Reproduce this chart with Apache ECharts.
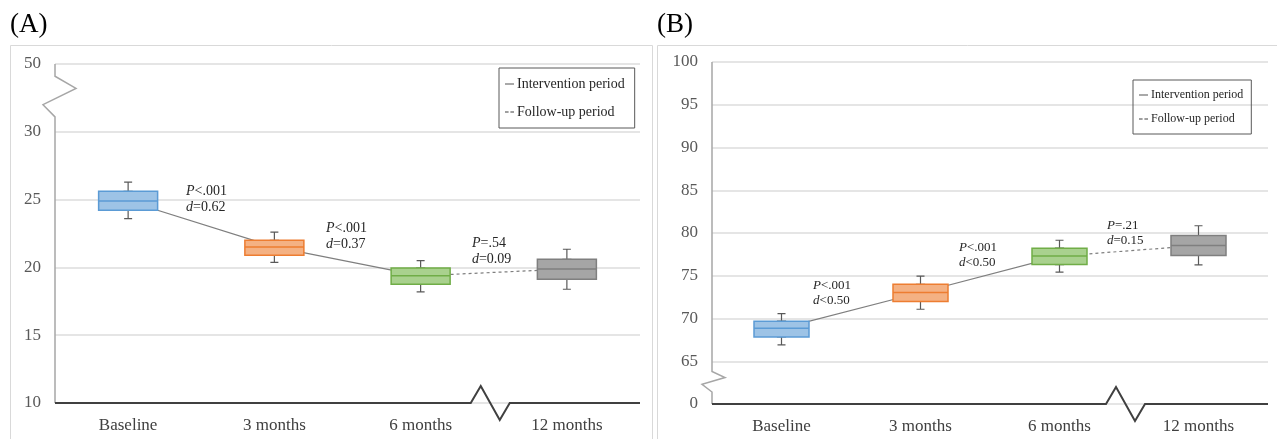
<!DOCTYPE html>
<html>
<head>
<meta charset="utf-8">
<script src="https://cdn.jsdelivr.net/npm/echarts@6/dist/echarts.min.js"></script>
<style>
  html, body { margin: 0; padding: 0; background: #fff; }
  #chart { width: 1277px; height: 439px; }
</style>
</head>
<body>
<div id="chart"></div>
<script>
const categories = ['Baseline', '3 months', '6 months', '12 months'];

// [min, Q1, median, Q3, max]
const boxA = [
  [23.6, 24.22, 24.9, 25.61, 26.29],
  [20.37, 20.89, 21.51, 22.0, 22.6],
  [18.2, 18.76, 19.38, 19.95, 20.5],
  [18.39, 19.13, 19.88, 20.6, 21.34]
];
const boxB = [
  [66.92, 67.85, 68.85, 69.69, 70.58],
  [71.08, 72.0, 73.04, 74.0, 74.96],
  [75.42, 76.31, 77.3, 78.23, 79.15],
  [76.27, 77.38, 78.54, 79.7, 80.85]
];

// tick labels (axis is broken, so the top/bottom tick is relabelled)
const ticksA = ['10', '15', '20', '25', '30', '50'];
const ticksB = ['0', '65', '70', '75', '80', '85', '90', '95', '100'];

const notesA = ['{i|P}<.001\n{i|d}=0.62', '{i|P}<.001\n{i|d}=0.37', '{i|P}=.54\n{i|d}=0.09'];
const notesB = ['{i|P}<.001\n{i|d}<0.50', '{i|P}<.001\n{i|d}<0.50', '{i|P}=.21\n{i|d}=0.15'];

const fills = ['#9dc3e6', '#f4b183', '#a9d18e', '#a5a5a5'];
const borders = ['#5b9bd5', '#ed7d31', '#70ad47', '#7f7f7f'];

const serif = '"Liberation Serif", "DejaVu Serif", serif';
const gridA = { left: 55, top: 64, width: 585, height: 339 };
const gridB = { left: 712, top: 62, width: 556, height: 342 };

function medians(box) { return box.map(d => d[2]); }

// idx: grid / main axes, wIdx: hidden x axis for the whiskers
function buildSeries(box, idx, wIdx, boxW) {
  const med = medians(box);
  return [
    {
      name: 'Intervention period', type: 'line', xAxisIndex: idx, yAxisIndex: idx,
      data: [med[0], med[1], med[2], '-'], symbol: 'none', z: 1, silent: true,
      lineStyle: { color: '#7f7f7f', width: 1.2 }, itemStyle: { color: '#7f7f7f' }
    },
    {
      name: 'Follow-up period', type: 'line', xAxisIndex: idx, yAxisIndex: idx,
      data: ['-', '-', med[2], med[3]], symbol: 'none', z: 1, silent: true,
      lineStyle: { color: '#7f7f7f', width: 1.2, type: [3, 3] }, itemStyle: { color: '#7f7f7f' }
    },
    {
      // whiskers
      type: 'boxplot', xAxisIndex: wIdx, yAxisIndex: idx, z: 3, silent: true,
      boxWidth: [8, 8], data: box,
      itemStyle: { color: '#fff', borderColor: '#595959', borderWidth: 1.2 }
    },
    {
      // boxes
      type: 'boxplot', xAxisIndex: idx, yAxisIndex: idx, z: 4, silent: true,
      boxWidth: [boxW, boxW],
      data: box.map((d, i) => ({
        value: [d[1], d[1], d[2], d[3], d[3]],
        itemStyle: { color: fills[i], borderColor: borders[i], borderWidth: 1.5 }
      }))
    }
  ];
}

function yAxis(idx, min, max, labels) {
  return {
    gridIndex: idx, type: 'value', min: min, max: max, interval: 5,
    axisLine: { show: false }, axisTick: { show: false },
    axisLabel: {
      margin: 14, color: '#595959', fontFamily: serif, fontSize: 17,
      formatter: v => labels[Math.round((v - min) / 5)]
    },
    splitLine: { lineStyle: { color: '#dcdcdc', width: 1.5 } }
  };
}

function xAxis(idx, hidden) {
  return {
    gridIndex: idx, type: 'category', data: categories, show: !hidden,
    axisLine: { show: false }, axisTick: { show: false },
    axisLabel: { margin: 14, color: '#404040', fontFamily: serif, fontSize: 17 }
  };
}

const solidIcon = 'path://M0,0H10V1H0Z';
const dashIcon = 'path://M0,0H4V1H0Z M6,0H10V1H6Z';

function legend(left, top, size, gap, padR) {
  return {
    left: left, top: top, orient: 'vertical', selectedMode: false,
    data: [
      { name: 'Intervention period', icon: solidIcon, itemStyle: { color: '#404040' } },
      { name: 'Follow-up period', icon: dashIcon, itemStyle: { color: '#404040' } }
    ],
    borderColor: '#595959', borderWidth: 1, padding: [9, padR, 9, 6],
    itemGap: gap, itemWidth: 9, itemHeight: 1.3,
    textStyle: { fontFamily: serif, fontSize: size, color: '#262626', padding: [0, 0, 0, -2] }
  };
}

const chart = echarts.init(document.getElementById('chart'));
chart.setOption({
  animation: false,
  title: [
    { text: '(A)', left: 5, top: 6, textStyle: { fontFamily: serif, fontSize: 27, fontWeight: 'normal', color: '#000' } },
    { text: '(B)', left: 652, top: 6, textStyle: { fontFamily: serif, fontSize: 27, fontWeight: 'normal', color: '#000' } }
  ],
  grid: [gridA, gridB],
  xAxis: [xAxis(0), xAxis(1), xAxis(0, true), xAxis(1, true)],
  yAxis: [yAxis(0, 10, 35, ticksA), yAxis(1, 60, 100, ticksB)],
  legend: [legend(499, 68, 14, 14, 10), legend(1133, 80, 12, 12, 8)],
  series: buildSeries(boxA, 0, 2, 59).concat(buildSeries(boxB, 1, 3, 55))
});

// axis lines with break marks, placed through the axes' own scales
function px(idx, v) { return chart.convertToPixel({ yAxisIndex: idx }, v); }
function cx(grid, i) { return grid.left + (i + 0.5) * grid.width / categories.length; }

const axisStroke = { stroke: '#a6a6a6', lineWidth: 1.5, fill: null };
const baseStroke = { stroke: '#404040', lineWidth: 2, fill: null };

function axisShapes(idx, grid, min, max, brk) {
  const x0 = grid.left;
  const yb = px(idx, min);
  const m = (cx(grid, 2) + cx(grid, 3)) / 2;
  return [
    {
      type: 'polyline', silent: true, z: 10,
      shape: { points: [[x0, px(idx, max)], [x0, px(idx, brk[0])], [x0 + brk[4], px(idx, brk[1])],
        [x0 - brk[5], px(idx, brk[2])], [x0, px(idx, brk[3])], [x0, yb]] },
      style: axisStroke
    },
    {
      type: 'polyline', silent: true, z: 10,
      shape: { points: [[x0, yb], [m - 23, yb], [m - 13, yb - 17], [m + 6, yb + 17], [m + 16, yb],
        [grid.left + grid.width, yb]] },
      style: baseStroke
    }
  ];
}

// note i sits between category i and i+1; shift = fraction of a band
function noteShapes(grid, shift, yTop, notes, size, lh) {
  return notes.map((t, i) => ({
    type: 'text', silent: true, z: 10,
    x: cx(grid, i) + grid.width / categories.length * shift[i],
    y: yTop[i],
    style: {
      text: t, fontFamily: serif, fontSize: size, fill: '#262626', lineHeight: lh,
      rich: { i: { fontStyle: 'italic', fontFamily: serif, fontSize: size, fill: '#262626' } }
    }
  }));
}

chart.setOption({
  graphic: [
    { type: 'rect', silent: true, shape: { x: 10.5, y: 45.5, width: 642, height: 395 },
      style: { fill: null, stroke: '#d9d9d9', lineWidth: 1 } },
    { type: 'rect', silent: true, shape: { x: 657.5, y: 45.5, width: 630, height: 395 },
      style: { fill: null, stroke: '#d9d9d9', lineWidth: 1 } }
  ].concat(
    axisShapes(0, gridA, 10, 35, [34.1, 33.2, 32.0, 31.1, 21, 12]),
    axisShapes(1, gridB, 60, 100, [63.8, 63.1, 62.3, 61.4, 13, 10]),
    noteShapes(gridA, [0.396, 0.353, 0.351], [183, 220, 235], notesA, 14, 16),
    noteShapes(gridB, [0.227, 0.277, 0.342], [278, 240, 218], notesB, 13, 15)
  )
});
</script>
</body>
</html>
